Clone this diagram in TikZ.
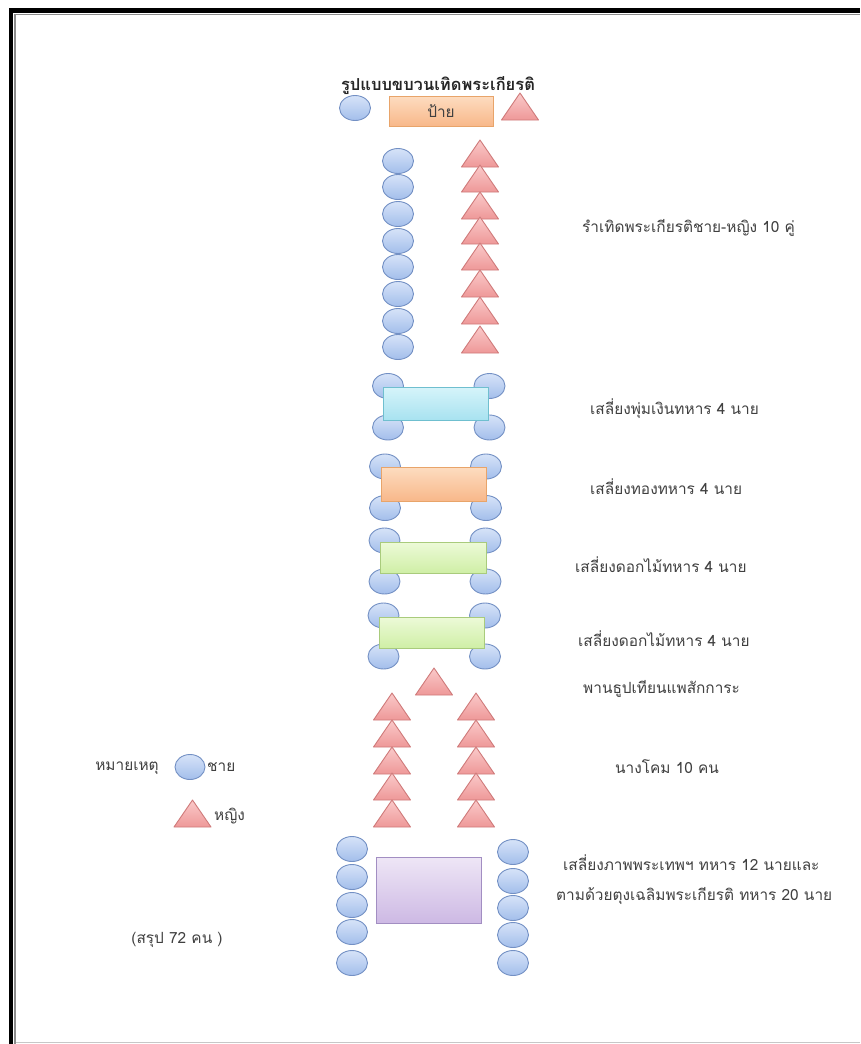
\documentclass[tikz,border=0pt]{standalone}
\usepackage{fontspec}
\usetikzlibrary{shapes.geometric}
\newfontfamily\thaifont[Script=Thai]{Loma}
\definecolor{manline}{HTML}{7390C4}
\definecolor{mantop}{HTML}{D6E3F8}
\definecolor{manbot}{HTML}{A3BEEB}
\definecolor{womline}{HTML}{CF7A7A}
\definecolor{womtop}{HTML}{FACACA}
\definecolor{wombot}{HTML}{EE9898}
\definecolor{orline}{HTML}{E8A46A}
\definecolor{ortop}{HTML}{FDDCC0}
\definecolor{orbot}{HTML}{F8B88A}
\definecolor{cyline}{HTML}{6FBFCF}
\definecolor{cytop}{HTML}{D6F4FA}
\definecolor{cybot}{HTML}{A8E2F0}
\definecolor{grline}{HTML}{A9CB7C}
\definecolor{grtop}{HTML}{EDFAD8}
\definecolor{grbot}{HTML}{CFEFA6}
\definecolor{puline}{HTML}{A28EC2}
\definecolor{putop}{HTML}{EEE6F6}
\definecolor{pubot}{HTML}{CDB9E4}
\definecolor{txt}{HTML}{404040}
\tikzset{
  man/.style={ellipse, draw=manline, line width=0.9pt, top color=mantop, bottom color=manbot,
    minimum width=31pt, minimum height=25pt, inner sep=0pt},
  wombody/.style={draw=womline, line width=0.9pt, top color=womtop, bottom color=wombot, line join=round},
  pics/wom/.style={code={\path[wombody] (0,0) -- (18.5,27) -- (-18.5,27) -- cycle;}},
  sedan/.style={rectangle, line width=0.9pt, inner sep=0pt},
  orbox/.style={sedan, draw=orline, top color=ortop, bottom color=orbot},
  cybox/.style={sedan, draw=cyline, top color=cytop, bottom color=cybot},
  grbox/.style={sedan, draw=grline, top color=grtop, bottom color=grbot},
  pubox/.style={sedan, draw=puline, top color=putop, bottom color=pubot},
  lbl/.style={font=\thaifont\fontsize{15.4}{17}\selectfont, text=txt, inner sep=0pt},
  rlbl/.style={lbl, anchor=west},
  frameline/.style={line width=4.5pt, black}
}
\begin{document}
\begin{tikzpicture}[x=1pt,y=-1pt]
\useasboundingbox (0,0) rectangle (860,1044);
\fill[white] (0,0) rectangle (860,1044);
% frame
\draw[frameline] (11,1044) -- (11,10.5) -- (860,10.5);
\draw[black!45, line width=1.2pt] (15,1044) -- (15,14.2) -- (860,14.2);
\draw[black!22, line width=1pt] (16,1042.5) -- (860,1042.5);

% title row
\node[lbl, font=\thaifont\bfseries\fontsize{16.5}{18}\selectfont, text=black!85] (title) at (438,86) {รูปแบบขบวนเทิดพระเกียรติ};
\node[man] (c0) at (355,108) {};
\node[orbox, minimum width=104pt, minimum height=30pt] (sign) at (441,111) {};
\node[lbl] (signtext) at (sign.center) {ป้าย};
\pic (t0) at (520,93) {wom};

% dancers, 8 pairs
\foreach \y [count=\i] in {161,187,214,241,267,294,321,347}
  \node[man] (d\i) at (398,\y) {};
\foreach \y [count=\i] in {140,165,192,217,243,270,297,326}
  \pic (dw\i) at (480,\y) {wom};
\node[rlbl] (l1) at (582,228) {รำเทิดพระเกียรติชาย-หญิง 10 คู่};

% sedan 1 (cyan)
\node[man] (s1a) at (388,386) {};
\node[man] (s1b) at (489.5,386) {};
\node[man] (s1c) at (388,427.5) {};
\node[man] (s1d) at (489.5,427.5) {};
\node[cybox, minimum width=105pt, minimum height=33pt] (s1) at (435.5,403.5) {};
\node[rlbl] (l2) at (590,409) {เสลี่ยงพุ่มเงินทหาร 4 นาย};

% sedan 2 (orange)
\node[man] (s2a) at (385,466.5) {};
\node[man] (s2b) at (486,466.5) {};
\node[man] (s2c) at (385,508) {};
\node[man] (s2d) at (486,508) {};
\node[orbox, minimum width=105pt, minimum height=34pt] (s2) at (433.5,484) {};
\node[rlbl] (l3) at (590,487) {เสลี่ยงทองทหาร 4 นาย};

% sedan 3 (green)
\node[man] (s3a) at (384.5,540.5) {};
\node[man] (s3b) at (485.5,540.5) {};
\node[man] (s3c) at (384.5,581.5) {};
\node[man] (s3d) at (485.5,581.5) {};
\node[grbox, minimum width=106pt, minimum height=31pt] (s3) at (433,557.5) {};
\node[rlbl] (l4) at (575,565) {เสลี่ยงดอกไม้ทหาร 4 นาย};

% sedan 4 (green)
\node[man] (s4a) at (383.5,615.5) {};
\node[man] (s4b) at (485,615.5) {};
\node[man] (s4c) at (383.5,656.5) {};
\node[man] (s4d) at (485,656.5) {};
\node[grbox, minimum width=105pt, minimum height=31pt] (s4) at (431.5,632.5) {};
\node[rlbl] (l5) at (578,639) {เสลี่ยงดอกไม้ทหาร 4 นาย};

% offering tray
\pic (tray) at (434,668) {wom};
\node[rlbl] (l6) at (583,689) {พานธูปเทียนแพสักการะ};

% lantern women
\foreach \y [count=\i] in {693,720,747,773,800}{
  \pic (kl\i) at (392,\y) {wom};
  \pic (kr\i) at (476,\y) {wom};
}
\node[rlbl] (l7) at (615,767) {นางโคม 10 คน};

% portrait sedan
\foreach \y [count=\i] in {849,877,905,932,963}
  \node[man] (pl\i) at (352,\y) {};
\foreach \y [count=\i] in {852,881,908,935,963}
  \node[man] (pr\i) at (513,\y) {};
\node[pubox, minimum width=105pt, minimum height=66pt] (s5) at (428.5,890) {};
\node[rlbl] (l8) at (563,863) {เสลี่ยงภาพพระเทพฯ ทหาร 12 นายและ};
\node[rlbl] (l9) at (556,896) {ตามด้วยตุงเฉลิมพระเกียรติ ทหาร 20 นาย};

% legend
\node[lbl] (note) at (127,768) {หมายเหตุ};
\node[man, minimum width=30pt] (legm) at (190,767) {};
\node[rlbl] (legmt) at (207,767) {ชาย};
\pic (legw) at (192.5,800) {wom};
\node[rlbl] (legwt) at (214,816) {หญิง};
\node[lbl] (total) at (177,940) {(สรุป 72 คน )};
\end{tikzpicture}
\end{document}
